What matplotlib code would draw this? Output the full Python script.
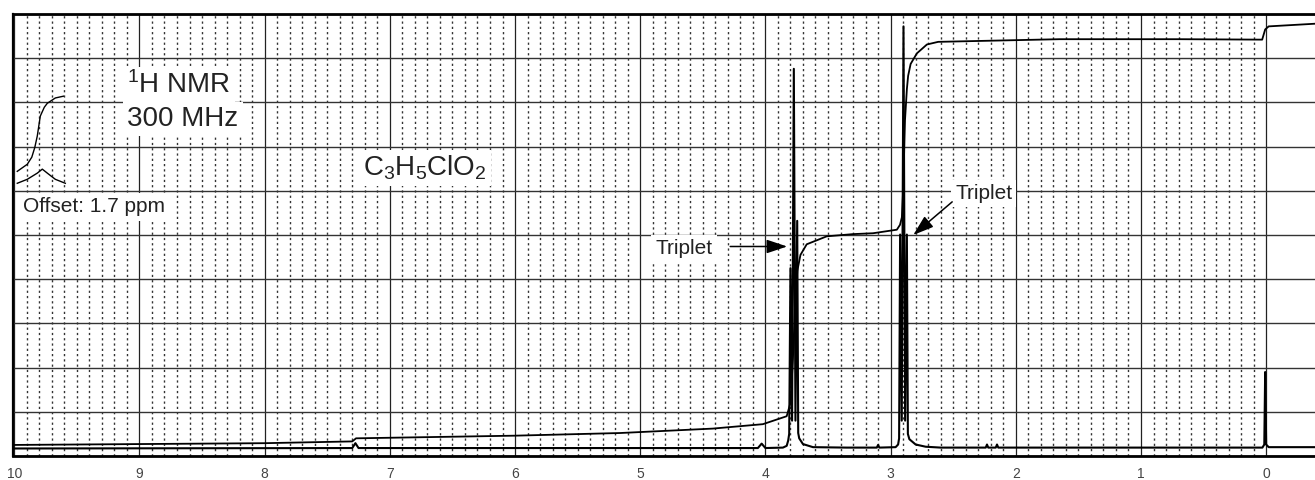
import numpy as np
import matplotlib
matplotlib.use("Agg")
import matplotlib.pyplot as plt

plt.rcParams['font.family'] = ['Liberation Sans', 'DejaVu Sans']
plt.rcParams['mathtext.fontset'] = 'custom'
plt.rcParams['mathtext.rm'] = 'Liberation Sans'
plt.rcParams['mathtext.it'] = 'Liberation Sans:italic'
plt.rcParams['mathtext.default'] = 'regular'

# spectrum trace (ppm, height in chart units 0-100)
spec_ppm = [10.01, 7.30, 7.275, 7.25, 4.06, 4.03, 4.00, 3.86, 3.83, 3.818, 3.81,
            3.800, 3.787, 3.773, 3.760, 3.746, 3.738, 3.73, 3.70, 3.62, 3.35,
            3.11, 3.10, 3.09, 2.96, 2.94, 2.932, 2.924, 2.911, 2.897, 2.884, 2.870,
            2.862, 2.85, 2.80, 2.72, 2.60, 2.24, 2.23, 2.22, 2.16, 2.15, 2.14,
            0.03, 0.015, 0.008, 0.0, -0.02, -0.39]
spec_int = [1.7, 1.8, 2.9, 1.8, 1.8, 2.8, 1.8, 1.9, 2.3, 3.5, 5.0,
            42.5, 8.0, 87.6, 8.0, 53.2, 5.2, 4.0, 2.7, 2.0, 1.9,
            1.9, 2.5, 1.9, 2.0, 2.6, 4.0, 50.1, 8.0, 97.2, 8.0, 50.1,
            5.0, 3.8, 2.6, 2.1, 1.9, 1.9, 2.6, 1.9, 1.9, 2.6, 1.9,
            1.9, 2.6, 19.0, 2.6, 2.0, 2.0]

# integral trace
int_ppm = [10.01, 8.0, 7.30, 7.27, 6.0, 5.16, 4.42, 4.02, 3.83, 3.80, 3.78, 3.765,
           3.745, 3.72, 3.67, 3.51, 3.30, 3.14, 2.95, 2.925, 2.91, 2.90, 2.885,
           2.87, 2.86, 2.84, 2.79, 2.71, 2.62, 1.65, 0.69, 0.032, 0.008, -0.02, -0.39]
int_val = [2.5, 2.9, 3.3, 4.0, 4.6, 5.2, 6.2, 7.2, 9.0, 12.0, 22.0, 33.0,
           41.9, 45.5, 47.9, 49.7, 50.2, 50.4, 51.2, 52.3, 54.0, 60.0, 76.0,
           83.0, 86.0, 88.7, 91.1, 93.1, 93.7, 94.3, 94.3, 94.2, 96.5, 97.2, 97.8]

# offset inset (COOH, drawn 1.7 ppm shifted)
off_int_ppm = [9.976, 9.896, 9.860, 9.836, 9.816, 9.792, 9.760, 9.736, 9.672, 9.608]
off_int_val = [64.4, 66.0, 67.6, 69.8, 72.4, 76.9, 78.9, 79.8, 81.0, 81.4]
off_pk_ppm = [9.976, 9.896, 9.816, 9.776, 9.736, 9.672, 9.592]
off_pk_val = [61.7, 62.6, 64.0, 64.9, 64.0, 62.6, 61.7]

tick_pos = list(range(0, 11))
tick_lbl = [str(t) for t in tick_pos]

fig = plt.figure(figsize=(13.15, 4.8), dpi=100)
ax = fig.add_axes([13/1315, 24/480, 1 - 13/1315, 442/480])
ax.set_xlim(10.01, -0.39)
ax.set_ylim(0, 100)

ax.set_xticks(tick_pos)
ax.set_xticklabels(tick_lbl)
ax.set_xticks(np.arange(0, 101) / 10, minor=True)
ax.set_yticks(np.arange(0, 101, 10))
ax.set_yticklabels([])
ax.tick_params(axis='both', which='both', length=0)
ax.tick_params(axis='x', pad=8, labelsize=10, labelcolor='#444')

ax.set_axisbelow(True)
ax.grid(which='major', axis='x', color='#222', lw=0.9, ls='-')
ax.grid(which='minor', axis='x', color='#333', lw=1.0, ls=(0, (1.6, 2.2)))
ax.grid(which='major', axis='y', color='#333', lw=1.0, ls='-')

for s in ['top', 'bottom']:
    ax.spines[s].set_linewidth(2.0)
ax.spines['left'].set_linewidth(1.6)
ax.spines['right'].set_visible(False)

ax.plot(spec_ppm, spec_int, color='k', lw=1.5)
ax.plot(int_ppm, int_val, color='k', lw=1.3)
ax.plot(off_int_ppm, off_int_val, color='k', lw=1.0)
ax.plot(off_pk_ppm, off_pk_val, color='k', lw=1.0)

box = dict(facecolor='white', edgecolor='none', pad=3)
ax.text(9.097, 82.1, r'$^1$H NMR', fontsize=20, color='#222', ha='left',
        va='baseline', bbox=box)
ax.text(9.097, 74.6, '300 MHz', fontsize=20, color='#222', ha='left',
        va='baseline', bbox=box)
ax.text(9.928, 55.1, 'Offset: 1.7 ppm', fontsize=15, color='#222', ha='left',
        va='baseline', bbox=box)
ax.text(7.212, 63.4, r'C$_3$H$_5$ClO$_2$', fontsize=20, color='#222',
        ha='left', va='baseline', bbox=box)

arrow = dict(arrowstyle='-|>,head_length=0.9,head_width=0.3', color='k',
             lw=1.1, mutation_scale=14, shrinkA=0, shrinkB=0)
ax.text(4.88, 45.6, 'Triplet', fontsize=15, color='#222', ha='left',
        va='baseline', bbox=box)
ax.annotate('', xy=(3.826, 47.4), xytext=(4.281, 47.4), arrowprops=arrow)
ax.text(2.484, 58.2, 'Triplet', fontsize=15, color='#222', ha='left',
        va='baseline', bbox=box)
ax.annotate('', xy=(2.819, 50.0), xytext=(2.508, 57.5), arrowprops=arrow)

fig.savefig('out.png', dpi=100)
